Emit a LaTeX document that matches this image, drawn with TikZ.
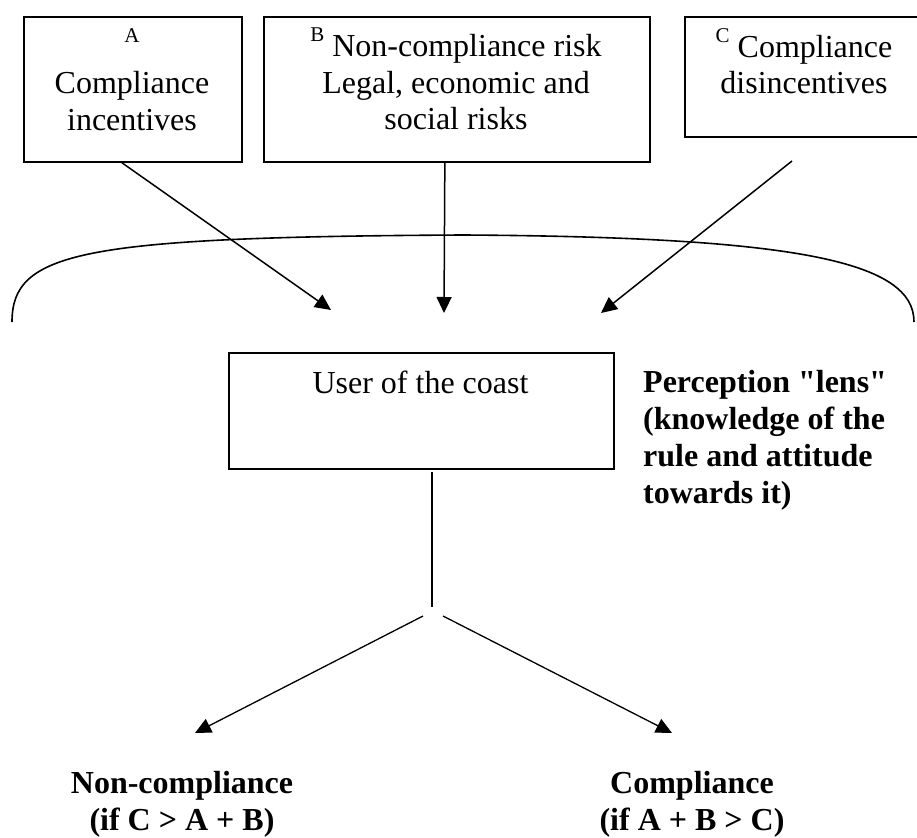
\documentclass[tikz,border=0pt]{standalone}
\usepackage{fontspec}
\newfontfamily\tnr{Liberation Serif}
\usetikzlibrary{arrows.meta,calc}
\tikzset{
  box/.style={draw, line width=1.7pt, rectangle, inner sep=0pt, anchor=north west},
  txt/.style={inner sep=0pt, font=\tnr\fontsize{32}{36.5}\selectfont},
  btxt/.style={inner sep=0pt, font=\tnr\bfseries\fontsize{32}{37}\selectfont},
  arr/.style={line width=1.5pt, -{Triangle[length=16pt,width=15pt]}},
  arc/.style={line width=1.6pt},
  stem/.style={line width=1.3pt}
}
\newcommand{\supl}[1]{\raisebox{15pt}{\fontsize{21}{21}\selectfont #1}}
\begin{document}
\begin{tikzpicture}[x=1pt,y=-1pt]
\useasboundingbox (0,0) rectangle (917,837);
% top boxes
\node[box, minimum width=218pt, minimum height=145pt] (A) at (23,16) {};
\node[box, minimum width=386pt, minimum height=145pt] (B) at (263,16) {};
\node[box, minimum width=240pt, minimum height=120pt] (C) at (684,16) {};
\node[txt, align=center, anchor=north] (At) at (132,28) {\supl{A}\\Compliance\\incentives};
\node[txt, align=center, anchor=north] (Bt) at (456,28) {\supl{B} Non-compliance risk\\Legal, economic and\\social risks};
\node[txt, align=center, anchor=north] (Ct) at (804,28) {\supl{C} Compliance\\disincentives};
% arc
\draw[arc] (12,322) .. controls (12,252) and (80,237) .. (463,235)
                    .. controls (800,237) and (914,262) .. (914,322);
% arrows into the lens
\coordinate (tA) at (331,310);
\coordinate (tB) at (444,313);
\coordinate (tC) at (601,313);
\coordinate (sC) at (792,161);
\draw[arr] ($(A.south)+(-11,0)$) -- (tA);
\draw[arr] ($(B.south)+(-12,0)$) -- (tB);
\draw[arr] (sC) -- (tC);
% user box
\node[box, minimum width=385pt, minimum height=116pt] (U) at (228,352) {};
\node[txt, anchor=base] (Ut) at (420.5,393) {User of the coast};
\node[btxt, align=left, anchor=north west] (L) at (643,370) {Perception "lens"\\(knowledge of the\\rule and attitude\\towards it)};
% stem and split
\coordinate (s0) at (432,472);
\coordinate (s1) at (432,607);
\draw[stem] (s0) -- (s1);
\coordinate (l0) at (423,616);
\coordinate (r0) at (443,616);
\node[btxt, align=center, anchor=north] (N) at (182,771) {Non-compliance\\(if C > A + B)};
\node[btxt, align=center, anchor=north] (Y) at (692,771) {Compliance\\(if A + B > C)};
\coordinate (tl) at (195,733);
\coordinate (tr) at (672,733);
\draw[arr, line width=1.3pt] (l0) -- (tl);
\draw[arr, line width=1.3pt] (r0) -- (tr);
\end{tikzpicture}
\end{document}
